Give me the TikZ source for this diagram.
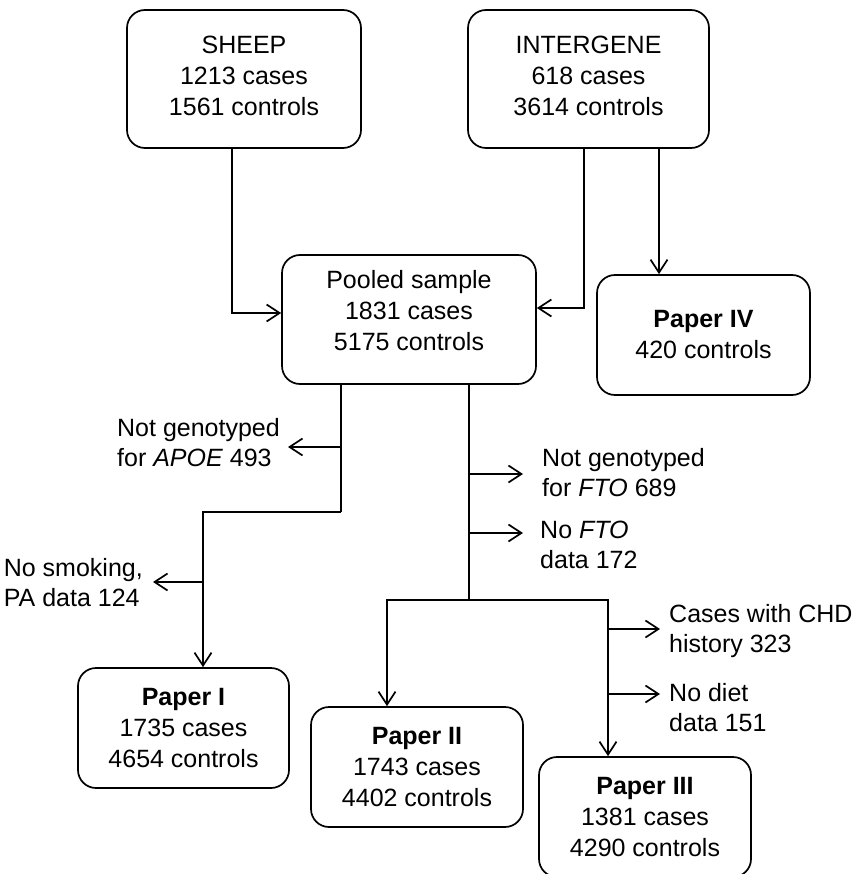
\documentclass[tikz,border=0pt]{standalone}
\usepackage{fontspec}
\setmainfont{Liberation Sans}
\usetikzlibrary{arrows.meta}
\tikzstyle{boxNode}=[draw, line width=1.7pt, rounded corners=18pt, align=center, inner sep=0pt]
\tikzstyle{flowLine}=[line width=1.7pt]
\tikzstyle{flowArrow}=[flowLine, -{Straight Barb[length=13pt,width=17pt]}]
\tikzstyle{dropNode}=[align=left, inner ysep=0pt, font=\fontsize{25}{30}\selectfont]

\begin{document}
\begin{tikzpicture}[x=1pt, y=-1pt, font=\fontsize{25}{31}\selectfont]
	\useasboundingbox (0,0) rectangle (856,874);

	\node[boxNode, minimum width=234pt, minimum height=138pt, text depth=6pt] (sheep) at (244,79) {SHEEP\\1213 cases\\1561 controls};
	\node[boxNode, minimum width=241pt, minimum height=138pt, text depth=6pt] (intergene) at (588.5,79) {INTERGENE\\618 cases\\3614 controls};
	\node[boxNode, minimum width=254pt, minimum height=129pt, text depth=19pt] (pooled) at (409,319.5) {Pooled sample\\1831 cases\\5175 controls};
	\node[boxNode, minimum width=213pt, minimum height=120pt] (paper4) at (703.5,335) {\textbf{Paper IV}\\420 controls};
	\node[boxNode, minimum width=211pt, minimum height=120pt] (paper1) at (183.5,728) {\textbf{Paper I}\\1735 cases\\4654 controls};
	\node[boxNode, minimum width=212pt, minimum height=120pt] (paper2) at (417,767) {\textbf{Paper II}\\1743 cases\\4402 controls};
	\node[boxNode, minimum width=212pt, minimum height=120pt] (paper3) at (645,817) {\textbf{Paper III}\\1381 cases\\4290 controls};

	\node[dropNode, anchor=east, inner xsep=8pt] (dropApoe) at (288,443) {Not genotyped\\for \textit{APOE} 493};
	\node[dropNode, anchor=east, inner xsep=10pt] (dropSmoke) at (153,583) {No smoking,\\PA data 124};
	\node[dropNode, anchor=west, inner xsep=19pt] (dropFtoA) at (523,473) {Not genotyped\\for \textit{FTO} 689};
	\node[dropNode, anchor=west, inner xsep=17pt] (dropFtoB) at (523,545) {No \textit{FTO}\\data 172};
	\node[dropNode, anchor=west, inner xsep=9pt] (dropChd) at (660,631) {Cases with CHD\\history 323};
	\node[dropNode, anchor=west, inner xsep=9pt] (dropDiet) at (660,708) {No diet\\data 151};

	\coordinate (apoeStep) at (341,512);
	\coordinate (split) at (469,600);
	\coordinate (apoe) at (341,447);
	\coordinate (smoke) at (203,582);
	\coordinate (ftoA) at (469,474);
	\coordinate (ftoB) at (469,533);
	\coordinate (chd) at (608,629);
	\coordinate (diet) at (608,694);

	\draw[flowArrow] ([xshift=-12pt]sheep.south) |- ([yshift=6.5pt]pooled.west);
	\draw[flowArrow] ([xshift=-4.5pt]intergene.south) |- ([yshift=11.5pt]pooled.east);
	\draw[flowArrow] ([xshift=70.5pt]intergene.south) -- ([xshift=-44.5pt]paper4.north);

	\draw[flowLine] ([xshift=-68pt]pooled.south) -- (apoeStep);
	\draw[flowArrow] (apoeStep) -| ([xshift=19.5pt]paper1.north);
	\draw[flowArrow] (apoe) -- (apoe -| dropApoe.east);
	\draw[flowArrow] (smoke) -- (smoke -| dropSmoke.east);

	\draw[flowLine] ([xshift=60pt]pooled.south) -- (split);
	\draw[flowArrow] (split) -| ([xshift=-30pt]paper2.north);
	\draw[flowArrow] (split) -| ([xshift=-37pt]paper3.north);
	\draw[flowArrow] (ftoA) -- (ftoA -| dropFtoA.west);
	\draw[flowArrow] (ftoB) -- (ftoB -| dropFtoB.west);
	\draw[flowArrow] (chd) -- (chd -| dropChd.west);
	\draw[flowArrow] (diet) -- (diet -| dropDiet.west);
\end{tikzpicture}
\end{document}
